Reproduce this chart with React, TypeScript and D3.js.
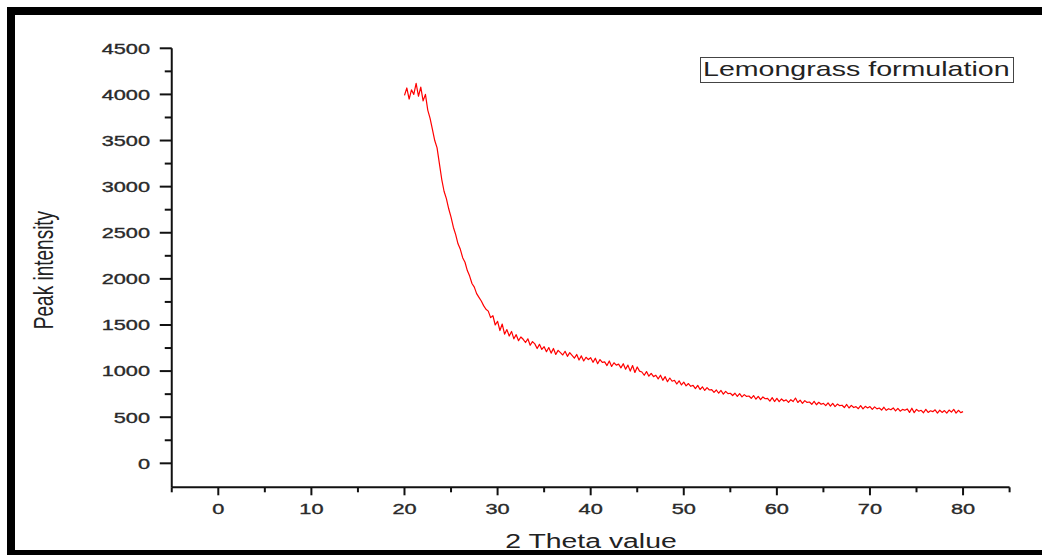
import React from "react";
import * as d3 from "d3";

// ---- data ----
const thetaStart = 20;
const thetaStep = 0.25;
const intensity: number[] = [
  // 20 - 26
  3990, 4070, 3950, 4050, 4000, 4120, 3980, 4080, 3930, 4000, 3830, 3740, 3620, 3500, 3420, 3250,
  3080, 2950, 2870, 2760, 2670, 2560, 2480, 2380,
  // 26 - 30
  2320, 2230, 2180, 2090, 2030, 1950, 1910, 1840, 1800, 1760, 1710, 1670, 1650, 1580, 1600, 1500,
  // 30 - 36
  1540, 1440, 1510, 1400, 1450, 1380, 1430, 1350, 1395, 1330, 1370, 1345, 1310, 1350, 1280, 1320,
  1295, 1245, 1290, 1235, 1265, 1210, 1255, 1195,
  // 36 - 40
  1245, 1180, 1225, 1200, 1175, 1215, 1160, 1200, 1170, 1140, 1180, 1120, 1165, 1110, 1150, 1125,
  // 40 - 46
  1145, 1095, 1140, 1080, 1125, 1095, 1100, 1060, 1110, 1050, 1090, 1065, 1075, 1035, 1080, 1020,
  1065, 1000, 1060, 985, 1045, 1000, 990, 955,
  // 46 - 50
  995, 945, 975, 940, 955, 915, 955, 900, 940, 885, 925, 890, 900, 860, 895, 850,
  // 50 - 56
  880, 840, 865, 835, 845, 810, 845, 800, 830, 790, 820, 795, 800, 770, 795, 760,
  790, 750, 780, 755, 760, 735, 760, 725,
  // 56 - 60
  755, 720, 745, 725, 730, 705, 735, 695, 725, 690, 720, 700, 705, 675, 712, 670,
  // 60 - 66
  705, 668, 698, 675, 688, 660, 690, 670, 708, 660, 685, 650, 680, 660, 665, 640,
  672, 635, 662, 640, 650, 625, 655, 620,
  // 66 - 70
  650, 615, 642, 625, 630, 605, 638, 600, 628, 605, 615, 592, 625, 590, 618, 600,
  // 70 - 76
  615, 585, 612, 590, 600, 578, 608, 575, 592, 580, 600, 568, 596, 565, 585, 575,
  590, 552, 598, 550, 585, 565, 575, 548,
  // 76 - 80
  585, 552, 570, 560, 580, 545, 576, 552, 572, 545, 578, 555, 585, 545, 575, 550,
  560,
];
const xTicks = [0, 10, 20, 30, 40, 50, 60, 70, 80];
const xMinorTicks = [-5, 5, 15, 25, 35, 45, 55, 65, 75, 85];
const yTicks = [0, 500, 1000, 1500, 2000, 2500, 3000, 3500, 4000, 4500];
const yMinorTicks = [250, 750, 1250, 1750, 2250, 2750, 3250, 3750, 4250];
const legendLabel = "Lemongrass formulation";
const xLabel = "2 Theta value";
const yLabel = "Peak intensity";

export default function App() {
  const x = d3.scaleLinear().domain([-5, 85]).range([171.75, 1009.6]);
  const y = d3.scaleLinear().domain([-260, 4500]).range([487.3, 48.3]);
  const pts = intensity.map((v, i) => [thetaStart + i * thetaStep, v] as [number, number]);
  const line = d3
    .line<[number, number]>()
    .x((d) => x(d[0]))
    .y((d) => y(d[1]));
  const font = "'Liberation Sans', Arial, sans-serif";
  const axisY = y(-260);
  const axisX = x(-5);
  const labelStyle = { stroke: "#2a2a2a", strokeWidth: 0.35 };
  return (
    <svg
      width={1042}
      height={555}
      style={{ position: "absolute", left: 0, top: 0, background: "#fff" }}
      fontFamily={font}
    >
      <rect x={0} y={0} width={1042} height={555} fill="#fff" />
      {/* frame */}
      <rect x={7} y={7} width={1035} height={8} fill="#000" />
      <rect x={7} y={7} width={8} height={548} fill="#000" />
      <rect x={7} y={550} width={1035} height={5} fill="#000" />

      {/* data line */}
      <path d={line(pts) || ""} fill="none" stroke="#ff0000" strokeWidth={1.2} strokeLinejoin="round" />

      {/* axes */}
      <line x1={axisX} x2={axisX} y1={y(4500)} y2={axisY} stroke="#111" strokeWidth={2} />
      <line x1={axisX} x2={x(85)} y1={axisY} y2={axisY} stroke="#111" strokeWidth={2} />
      {yTicks.map((t) => (
        <g key={"y" + t}>
          <line x1={axisX - 12} x2={axisX} y1={y(t)} y2={y(t)} stroke="#111" strokeWidth={2} />
          <text
            transform={`translate(150,${y(t) + 5.3}) scale(1.45,1)`}
            textAnchor="end"
            fontSize={15}
            fill="#2a2a2a"
            style={labelStyle}
          >
            {t}
          </text>
        </g>
      ))}
      {yMinorTicks.map((t) => (
        <line key={"ym" + t} x1={axisX - 7} x2={axisX} y1={y(t)} y2={y(t)} stroke="#111" strokeWidth={2} />
      ))}
      {xTicks.map((t) => (
        <g key={"x" + t}>
          <line x1={x(t)} x2={x(t)} y1={axisY} y2={axisY + 8} stroke="#111" strokeWidth={2} />
          <text
            transform={`translate(${x(t)},514) scale(1.45,1)`}
            textAnchor="middle"
            fontSize={15}
            fill="#2a2a2a"
            style={labelStyle}
          >
            {t}
          </text>
        </g>
      ))}
      {xMinorTicks.map((t) => (
        <line key={"xm" + t} x1={x(t)} x2={x(t)} y1={axisY} y2={axisY + 5} stroke="#111" strokeWidth={2} />
      ))}

      {/* axis titles */}
      <text transform="translate(591,547.5) scale(1.42,1)" textAnchor="middle" fontSize={20} fill="#222">
        {xLabel}
      </text>
      <text transform="translate(53,270) scale(1.45,1) rotate(-90)" textAnchor="middle" fontSize={19} fill="#222">
        {yLabel}
      </text>

      {/* legend */}
      <rect x={700.5} y={57.5} width={313} height={25} fill="#fff" stroke="#444" strokeWidth={1} />
      <text transform="translate(703,75.5) scale(1.43,1)" fontSize={20} fill="#222">
        {legendLabel}
      </text>
    </svg>
  );
}
